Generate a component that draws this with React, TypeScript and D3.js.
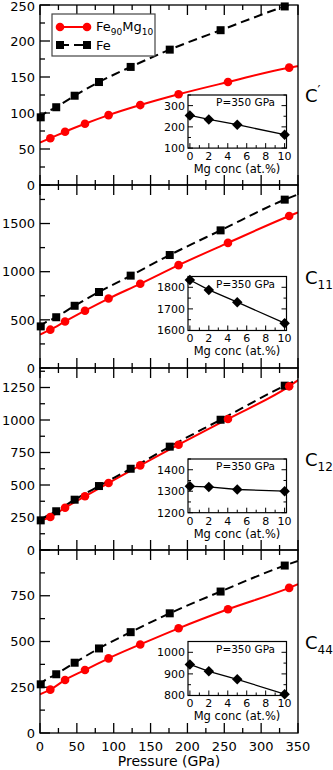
import { useEffect, useRef } from 'react';
import * as d3 from 'd3';

// Pressures (GPa) of the calculated points
const pressureFe = [1, 22, 47, 80, 123, 176, 245, 332];
const pressureFeMg = [14, 34, 61, 93, 136, 188, 255, 338];

// Elastic constants (GPa): C', C11, C12, C44
const feC1 = [94, 108, 124, 143, 164, 188, 215, 248];
const feMgC1 = [65, 74, 85, 97, 111, 126, 143, 163];
const feC11 = [432, 527, 646, 789, 959, 1173, 1429, 1748];
const feMgC11 = [398, 483, 595, 721, 874, 1068, 1299, 1578];
const feC12 = [228, 298, 387, 492, 625, 795, 1002, 1264];
const feMgC12 = [254, 325, 413, 515, 651, 810, 1008, 1259];
const feC44 = [266, 321, 384, 462, 551, 654, 773, 915];
const feMgC44 = [237, 290, 344, 408, 484, 572, 676, 793];

// Fit line values at 0 and 350 GPa, [Fe, FeMg]
const fitEnds = [
  [[92, 254], [59, 165]],
  [[420, 1803], [347, 1615]],
  [[222, 1312], [226, 1305]],
  [[255, 940], [212, 813]],
];

// Insets: constants at 350 GPa vs Mg concentration
const mgConc = [0, 2, 5, 10];
const insetC1 = [254, 235, 210, 163];
const insetC11 = [1834, 1788, 1731, 1634];
const insetC12 = [1323, 1320, 1308, 1300];
const insetC44 = [944, 912, 875, 806];
const insetMin = [100, 1600, 1200, 800];

const yMax = [250, 1900, 1400, 1000];
const yMajor = [50, 500, 250, 250];
const yMinor = [25, 250, 125, 125];
const labels = [['C', '′'], ['C', '11'], ['C', '12'], ['C', '44']];
const xTicks = [0, 50, 100, 150, 200, 250, 300, 350];

const FONT = 'DejaVu Sans, sans-serif';

const App = () => {
  const ref = useRef<SVGSVGElement | null>(null);

  useEffect(() => {
    if (!ref.current) return;
    const svg = d3.select(ref.current);
    svg.selectAll('*').remove();

    const edges = [5, 185, 368, 550, 733];
    const left = 40;
    const right = 298;
    const x = d3.scaleLinear().domain([0, 350]).range([left, right]);

    const feSets = [feC1, feC11, feC12, feC44];
    const mgSets = [feMgC1, feMgC11, feMgC12, feMgC44];
    const insets = [insetC1, insetC11, insetC12, insetC44];

    const defs = svg.append('defs');

    feSets.forEach((feVals, i) => {
      const top = edges[i];
      const bottom = edges[i + 1];
      const h = bottom - top;
      const y = d3.scaleLinear().domain([0, yMax[i]]).range([bottom, top]);
      const g = svg.append('g');

      defs.append('clipPath').attr('id', `clip${i}`)
        .append('rect').attr('x', left).attr('y', top).attr('width', right - left).attr('height', h);

      // x ticks, top and bottom, pointing inward
      d3.range(0, 351, 25).forEach(v => {
        const len = v % 50 === 0 ? 10 : 5;
        g.append('line').attr('x1', x(v)).attr('x2', x(v)).attr('y1', bottom).attr('y2', bottom - len)
          .attr('stroke', '#000').attr('stroke-width', 1.3);
        g.append('line').attr('x1', x(v)).attr('x2', x(v)).attr('y1', top).attr('y2', top + len)
          .attr('stroke', '#000').attr('stroke-width', 1.3);
      });

      // y ticks on the left
      d3.range(0, yMax[i] + 0.1, yMinor[i]).forEach(v => {
        const major = v % yMajor[i] === 0;
        g.append('line').attr('x1', left).attr('x2', left + (major ? 10 : 5)).attr('y1', y(v)).attr('y2', y(v))
          .attr('stroke', '#000').attr('stroke-width', 1.3);
        if (major && (v < yMax[i] || i === 0)) {
          g.append('text').attr('x', left - 5).attr('y', Math.max(y(v), 6)).attr('dy', '0.36em')
            .attr('text-anchor', 'end').attr('font-family', FONT).attr('font-size', 13)
            .text(v);
        }
      });

      // fit lines
      const line = d3.line<[number, number]>().x(d => x(d[0])).y(d => y(d[1])).curve(d3.curveMonotoneX);
      const feLine: [number, number][] = [[0, fitEnds[i][0][0]], ...pressureFe.map((p, k) => [p, feVals[k]] as [number, number]), [350, fitEnds[i][0][1]]];
      const mgLine: [number, number][] = [[0, fitEnds[i][1][0]], ...pressureFeMg.map((p, k) => [p, mgSets[i][k]] as [number, number]), [350, fitEnds[i][1][1]]];

      const plot = g.append('g').attr('clip-path', `url(#clip${i})`);
      plot.append('path').attr('d', line(mgLine)).attr('fill', 'none').attr('stroke', '#ff0000').attr('stroke-width', 2);
      plot.append('path').attr('d', line(feLine)).attr('fill', 'none').attr('stroke', '#000')
        .attr('stroke-width', 2).attr('stroke-dasharray', '9,5');

      g.selectAll('.sq').data(feVals).enter().append('rect')
        .attr('x', (d, k) => x(pressureFe[k]) - 4).attr('y', d => y(d) - 4)
        .attr('width', 8).attr('height', 8).attr('fill', '#000');
      g.selectAll('.ci').data(mgSets[i]).enter().append('circle')
        .attr('cx', (d, k) => x(pressureFeMg[k])).attr('cy', d => y(d)).attr('r', 4.3).attr('fill', '#ff0000');

      // frame
      g.append('rect').attr('x', left).attr('y', top).attr('width', right - left).attr('height', h)
        .attr('fill', 'none').attr('stroke', '#000').attr('stroke-width', 1.3);

      // right label
      const lab = g.append('text').attr('x', 305).attr('y', (top + bottom) / 2 + 7)
        .attr('font-family', FONT).attr('font-size', 18);
      lab.append('tspan').text(labels[i][0]);
      if (i === 0) {
        lab.append('tspan').attr('font-size', 13).attr('dy', -8).text(labels[i][1]);
      } else {
        lab.append('tspan').attr('font-size', 12).attr('dy', 5).text(labels[i][1]);
      }

      // inset
      const iTop = top + h * 0.5;
      const iBot = bottom - h * 0.205;
      const ix = d3.scaleLinear().domain([-0.2, 10.2]).range([188, 286.5]);
      const iy = d3.scaleLinear().domain([insetMin[i], insetMin[i] + 250]).range([iBot, iTop]);
      const ig = g.append('g');
      ig.append('rect').attr('x', 188).attr('y', iTop).attr('width', 98.5).attr('height', iBot - iTop)
        .attr('fill', '#fff').attr('stroke', '#000').attr('stroke-width', 1.2);
      d3.range(0, 11, 1).forEach(v => {
        const len = v % 2 === 0 ? 5 : 3;
        ig.append('line').attr('x1', ix(v)).attr('x2', ix(v)).attr('y1', iBot).attr('y2', iBot - len)
          .attr('stroke', '#000').attr('stroke-width', 1);
        if (v % 2 === 0) {
          ig.append('text').attr('x', ix(v)).attr('y', iBot + 12).attr('text-anchor', 'middle')
            .attr('font-family', FONT).attr('font-size', 11).text(v);
        }
      });
      d3.range(insetMin[i], insetMin[i] + 251, 50).forEach(v => {
        const major = (v - insetMin[i]) % 100 === 0;
        const len = major ? 5 : 3;
        ig.append('line').attr('x1', 188).attr('x2', 188 + len).attr('y1', iy(v)).attr('y2', iy(v))
          .attr('stroke', '#000').attr('stroke-width', 1);
        ig.append('line').attr('x1', 286.5).attr('x2', 286.5 - len).attr('y1', iy(v)).attr('y2', iy(v))
          .attr('stroke', '#000').attr('stroke-width', 1);
        if (major) {
          ig.append('text').attr('x', 185).attr('y', iy(v)).attr('dy', '0.36em').attr('text-anchor', 'end')
            .attr('font-family', FONT).attr('font-size', 11).text(v);
        }
      });
      ig.append('text').attr('x', 237).attr('y', iBot + 25).attr('text-anchor', 'middle')
        .attr('font-family', FONT).attr('font-size', 11.5).text('Mg conc (at.%)');
      ig.append('text').attr('x', 275).attr('y', iTop + 11).attr('text-anchor', 'end')
        .attr('font-family', FONT).attr('font-size', 10.5).text('P=350 GPa');
      ig.append('path')
        .attr('d', d3.line<number>().x((d, k) => ix(mgConc[k])).y(d => iy(d))(insets[i]))
        .attr('fill', 'none').attr('stroke', '#000').attr('stroke-width', 1.3);
      ig.selectAll('.dm').data(insets[i]).enter().append('path')
        .attr('d', d3.symbol().type(d3.symbolDiamond2).size(70)())
        .attr('transform', (d, k) => `translate(${ix(mgConc[k])},${iy(d)})`)
        .attr('fill', '#000');
    });

    // bottom x labels
    xTicks.forEach(v => {
      svg.append('text').attr('x', x(v)).attr('y', 751).attr('text-anchor', 'middle')
        .attr('font-family', FONT).attr('font-size', 13).text(v);
    });
    svg.append('text').attr('x', 169).attr('y', 766).attr('text-anchor', 'middle')
      .attr('font-family', FONT).attr('font-size', 14).text('Pressure (GPa)');

    // legend
    const lg = svg.append('g');
    lg.append('rect').attr('x', 52).attr('y', 14).attr('width', 103).attr('height', 42)
      .attr('fill', '#fff').attr('stroke', '#444').attr('stroke-width', 1.2);
    lg.append('line').attr('x1', 60).attr('x2', 87).attr('y1', 27).attr('y2', 27)
      .attr('stroke', '#ff0000').attr('stroke-width', 2);
    [60, 87].forEach(cx => lg.append('circle').attr('cx', cx).attr('cy', 27).attr('r', 4.3).attr('fill', '#ff0000'));
    lg.append('line').attr('x1', 60).attr('x2', 87).attr('y1', 45).attr('y2', 45)
      .attr('stroke', '#000').attr('stroke-width', 2).attr('stroke-dasharray', '9,5');
    [60, 87].forEach(cx => lg.append('rect').attr('x', cx - 4).attr('y', 41).attr('width', 8).attr('height', 8).attr('fill', '#000'));
    const t1 = lg.append('text').attr('x', 96).attr('y', 31).attr('font-family', FONT).attr('font-size', 13);
    t1.append('tspan').text('Fe');
    t1.append('tspan').attr('font-size', 9).attr('dy', 4).text('90');
    t1.append('tspan').attr('dy', -4).text('Mg');
    t1.append('tspan').attr('font-size', 9).attr('dy', 4).text('10');
    lg.append('text').attr('x', 96).attr('y', 50).attr('font-family', FONT).attr('font-size', 13).text('Fe');
  }, []);

  return (
    <svg ref={ref} width={333} height={770} style={{ position: 'absolute', left: 0, top: 0, background: '#fff' }} />
  );
};

export default App;
